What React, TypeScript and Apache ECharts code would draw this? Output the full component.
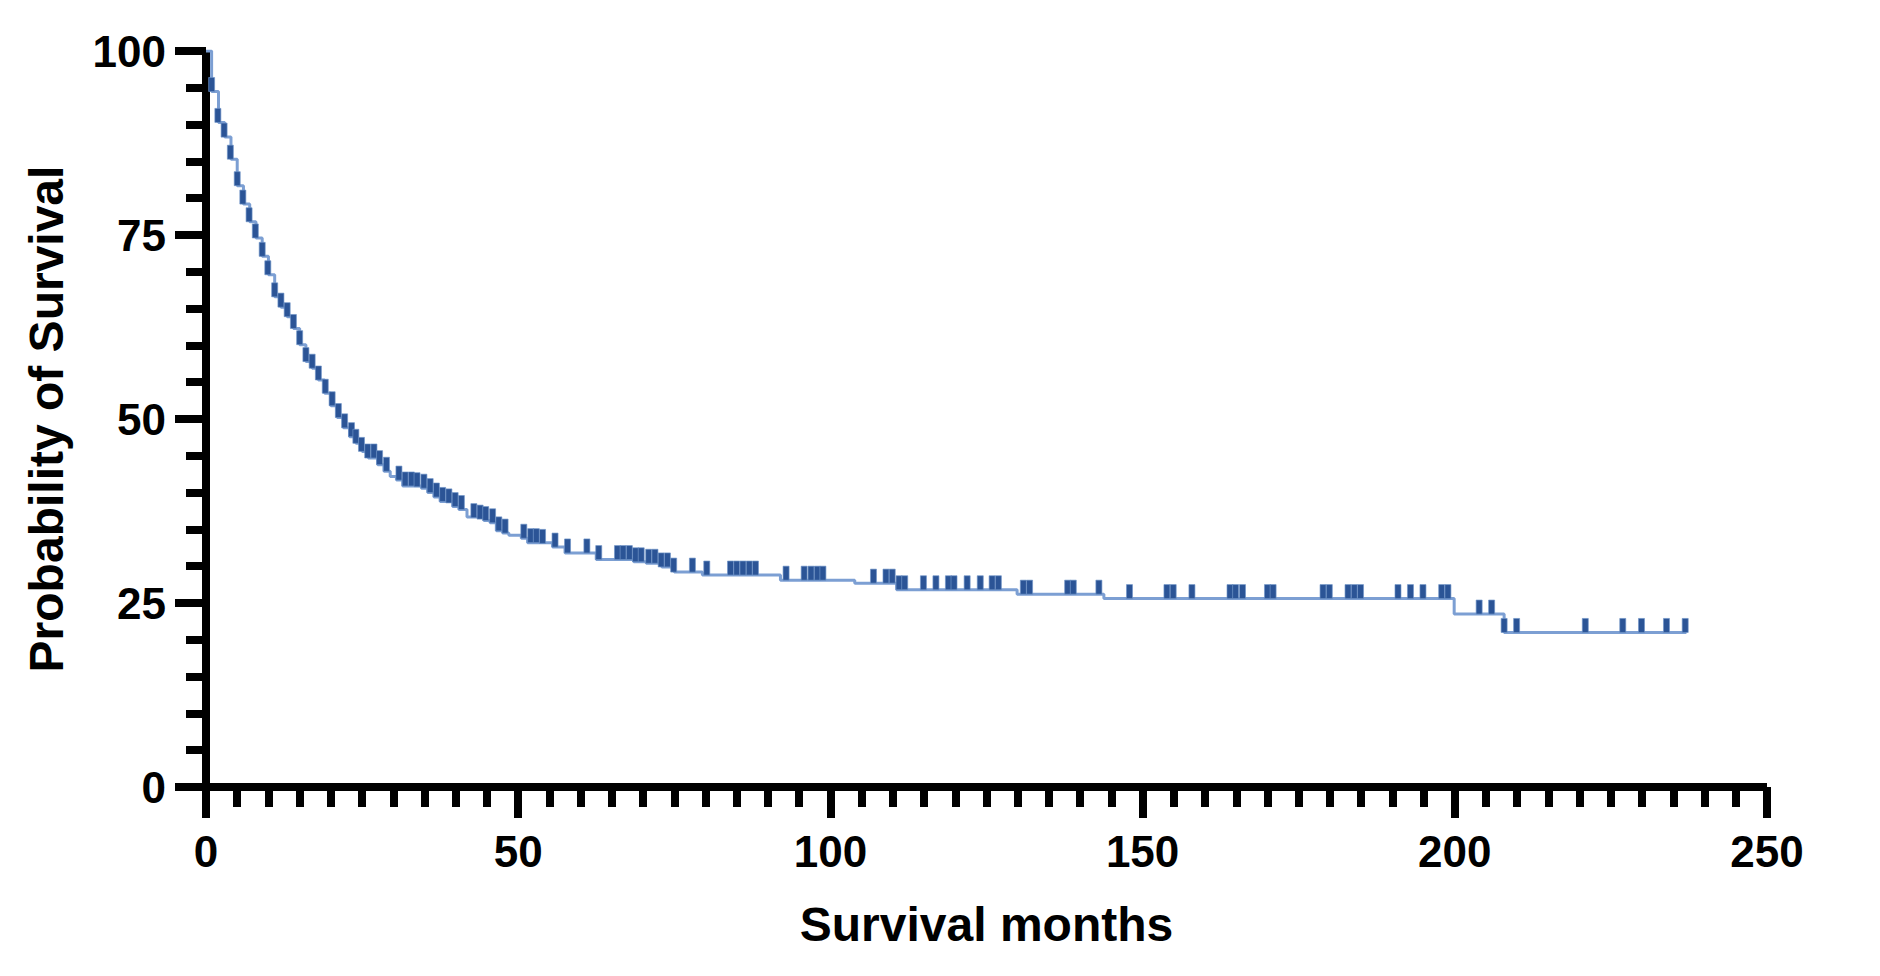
import React, { useEffect, useRef } from "react";
import * as echarts from "echarts";

// Kaplan–Meier step curve: time (months) where survival changes, and survival (%) from that time on
const stepTimes = [
  0, 0.9, 2.0, 3.0, 4.0, 5.0, 6.0, 7.0, 8.0, 9.0, 10.0, 11.0, 12.0, 13.0, 14.0, 15.0, 16.0, 17.0, 18.0, 19.0,
  20.0, 21.0, 22.0, 23.0, 24.0, 25.0, 26.0, 27.5, 28.5, 29.5, 30.5, 31.5, 34.5, 35.5, 36.5, 37.5, 39.5, 40.5,
  41.8, 44.5, 45.5, 46.5, 47.5, 48.5, 50.5, 51.5, 55.5, 57.5, 62.5, 68.5, 70.5, 73.0, 75.0, 79.5, 92.0, 103.9,
  110.6, 129.9, 143.8, 199.9, 207.9, 237.1,
];
const stepSurvival = [
  100, 94.5, 90.3, 88.3, 85.3, 81.7, 79.2, 76.8, 74.6, 72.1, 69.6, 66.6, 65.2, 63.9, 62.3, 60.1, 57.8, 56.9, 55.3, 53.5,
  51.8, 50.2, 48.8, 47.6, 46.7, 45.6, 44.7, 43.8, 42.9, 42.2, 41.7, 40.9, 40.6, 40.0, 39.4, 38.8, 38.1, 37.7,
  36.7, 36.2, 35.9, 34.8, 34.5, 34.2, 33.8, 33.2, 32.6, 31.8, 30.9, 30.6, 30.4, 29.9, 29.2, 28.8, 28.1, 27.7,
  26.8, 26.2, 25.6, 23.5, 21.0, 21.0,
];

// Censored observations (tick marks): time (months) and survival level (%)
const censorTimes = [
  0.9, 1.9, 2.9, 3.9, 5.0, 5.9, 6.9, 7.9, 9.0, 9.9, 11.0, 12.0, 13.0, 14.0, 15.0, 16.0, 17.0, 18.0, 19.1,
  20.2, 21.2, 22.2, 23.3, 24.0, 24.9, 25.9, 26.9, 27.8, 28.9, 30.9, 31.9, 32.9, 33.8, 34.9, 35.9, 36.9, 37.9,
  38.9, 39.9, 40.9, 42.9, 43.9, 44.8, 45.9, 46.9, 47.9, 50.9, 52.0, 52.9, 53.9, 55.9, 57.9, 61.0, 62.9, 65.9,
  66.8, 67.8, 68.8, 69.7, 70.9, 71.9, 72.9, 73.9, 74.9, 77.9, 80.2, 84.0, 85.0, 86.0, 87.0, 88.0, 92.9, 95.8,
  96.9, 97.9, 98.8, 106.9, 108.9, 109.9, 111.0, 111.9, 114.9, 116.9, 118.9, 119.8, 121.9, 124.0, 125.9, 126.9,
  130.9, 131.9, 138.0, 138.9, 143.0, 147.9, 153.9, 154.9, 157.9, 164.0, 164.9, 166.0, 170.0, 170.9, 178.9,
  179.9, 182.9, 183.9, 184.9, 190.9, 192.9, 194.9, 197.9, 198.9, 203.9, 205.9, 207.9, 209.9, 220.9, 226.9,
  229.9, 233.9, 236.9,
];
const censorSurvival = [
  94.5, 90.3, 88.3, 85.3, 81.7, 79.2, 76.8, 74.6, 72.1, 69.6, 66.6, 65.2, 63.9, 62.3, 60.1, 57.8, 56.9, 55.3, 53.5,
  51.8, 50.2, 48.8, 47.6, 46.7, 45.6, 44.7, 44.7, 43.8, 42.9, 41.7, 40.9, 40.9, 40.8, 40.6, 40.0, 39.4, 38.8,
  38.6, 38.1, 37.7, 36.6, 36.4, 36.2, 35.9, 34.8, 34.5, 33.8, 33.2, 33.2, 33.1, 32.6, 31.8, 31.8, 30.9, 30.9,
  30.9, 30.9, 30.6, 30.6, 30.4, 30.4, 29.9, 29.9, 29.2, 29.2, 28.8, 28.8, 28.8, 28.8, 28.8, 28.8, 28.1, 28.1,
  28.1, 28.1, 28.1, 27.7, 27.7, 27.7, 26.8, 26.8, 26.8, 26.8, 26.8, 26.8, 26.8, 26.8, 26.8, 26.8,
  26.2, 26.2, 26.2, 26.2, 26.2, 25.6, 25.6, 25.6, 25.6, 25.6, 25.6, 25.6, 25.6, 25.6, 25.6,
  25.6, 25.6, 25.6, 25.6, 25.6, 25.6, 25.6, 25.6, 25.6, 23.5, 23.5, 21.0, 21.0, 21.0, 21.0,
  21.0, 21.0, 21.0,
];

const xTitle = "Survival months";
const yTitle = "Probability of Survival";

const FONT = "'Liberation Sans', Arial, Helvetica, sans-serif";

export default function App() {
  const ref = useRef<HTMLDivElement>(null);

  useEffect(() => {
    document.body.style.margin = "0";
    if (!ref.current) return;
    const chart = echarts.init(ref.current, undefined, { renderer: "svg" });

    const axisCommon = {
      axisLine: { show: true, lineStyle: { color: "#000", width: 8, cap: "butt" } },
      axisTick: { show: true, inside: false, length: 31, lineStyle: { color: "#000", width: 8 } },
      minorTick: { show: true, length: 20, lineStyle: { color: "#000", width: 8 } },
      splitLine: { show: false },
      minorSplitLine: { show: false },
    };

    chart.setOption({
      animation: false,
      backgroundColor: "#fff",
      grid: { left: 206, right: 113, top: 51, bottom: 189, containLabel: false },
      xAxis: {
        type: "value",
        min: 0,
        max: 250,
        interval: 50,
        ...axisCommon,
        minorTick: { ...axisCommon.minorTick, splitNumber: 10 },
        axisLabel: {
          margin: 42,
          color: "#000",
          fontFamily: FONT,
          fontWeight: "bold",
          fontSize: 44,
        },
        name: xTitle,
        nameLocation: "middle",
        nameGap: 113,
        nameTextStyle: { color: "#000", fontFamily: FONT, fontWeight: "bold", fontSize: 48 },
      },
      yAxis: {
        type: "value",
        min: 0,
        max: 100,
        interval: 25,
        ...axisCommon,
        minorTick: { ...axisCommon.minorTick, splitNumber: 5 },
        axisLabel: {
          margin: 40,
          color: "#000",
          fontFamily: FONT,
          fontWeight: "bold",
          fontSize: 44,
        },
        name: yTitle,
        nameLocation: "middle",
        nameRotate: 90,
        nameGap: 136,
        nameTextStyle: { color: "#000", fontFamily: FONT, fontWeight: "bold", fontSize: 48 },
      },
      series: [
        {
          type: "line",
          step: "end",
          showSymbol: false,
          data: stepTimes.map((t, i) => [t, stepSurvival[i]]),
          lineStyle: { color: "#7c9fd3", width: 3 },
          z: 2,
        },
        {
          type: "scatter",
          symbol: "rect",
          symbolSize: [6, 14],
          symbolOffset: [0, "-50%"],
          data: censorTimes.map((t, i) => [t, censorSurvival[i]]),
          itemStyle: { color: "#2b5496", borderColor: "#6f93c8", borderWidth: 0.6, opacity: 1 },
          z: 3,
        },
      ],
    });

    return () => chart.dispose();
  }, []);

  return <div ref={ref} style={{ width: 1880, height: 976 }} />;
}
